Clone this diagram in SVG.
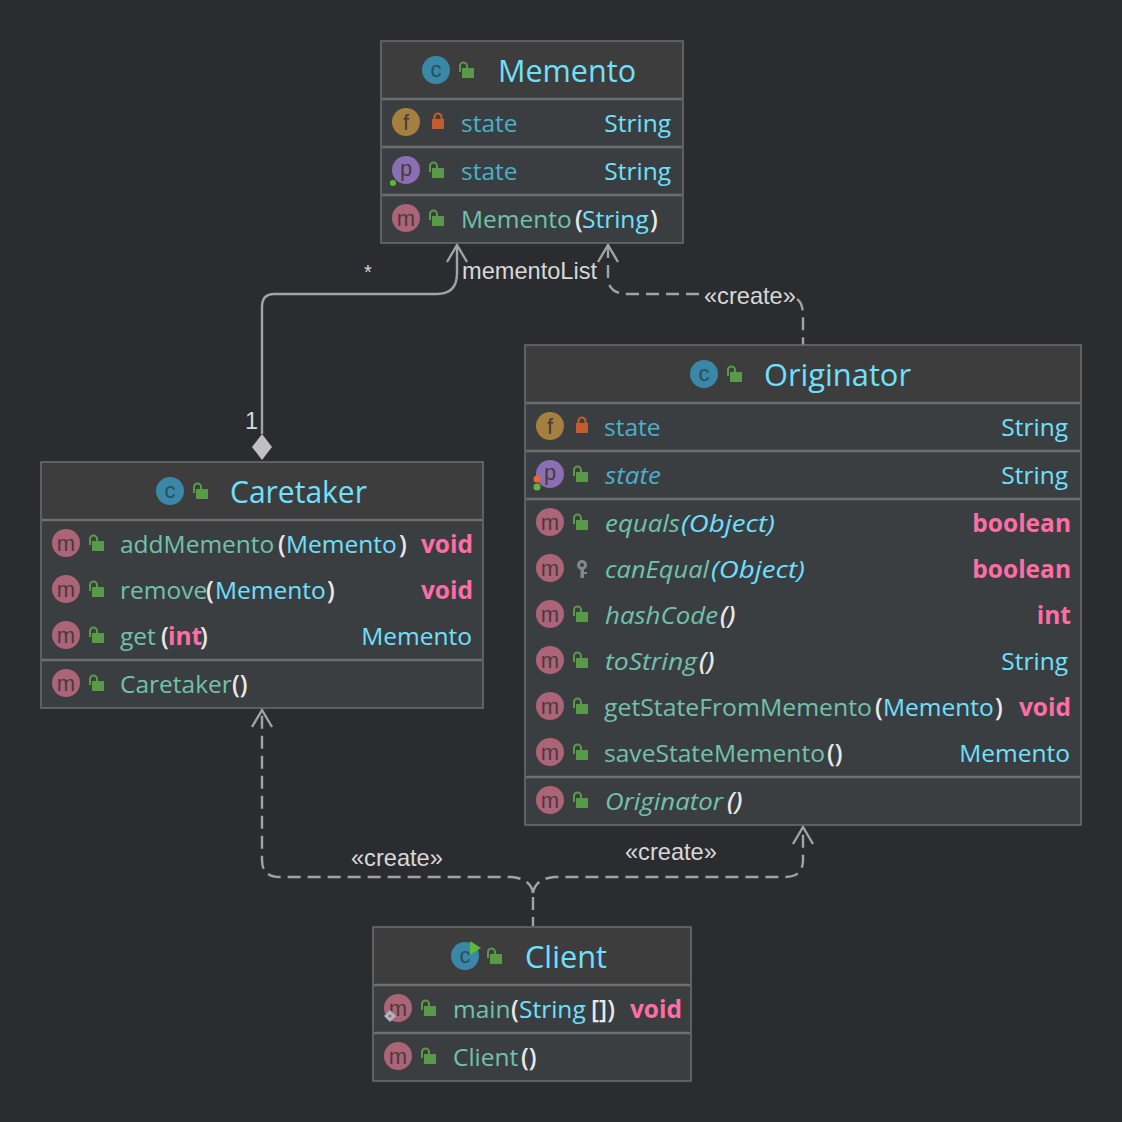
<svg xmlns="http://www.w3.org/2000/svg" width="1122" height="1122" viewBox="0 0 1122 1122">
<defs>
<style>
.t{font-family:"Open Sans","Noto Sans","Liberation Sans",sans-serif}
.title{font-size:31px;fill:#6fe0ff}
.tx{font-size:24.500px}
.f{fill:#49b0cc}.m{fill:#70c2ac}.ty{fill:#6fe0ff}.w{fill:#e8e8e8;font-weight:600}
.r{fill:#ff6da5;font-weight:700}
.i{font-style:italic}
.e{text-anchor:end}
.lb{font-family:"Liberation Sans",Arial,sans-serif;font-size:23.600px;fill:#d8d8d8}
.box{fill:#3b3e41;stroke:#6e6e6e;stroke-width:1.500}
.hd{fill:#3d3d3d}
.sep{stroke:#6e6e6e;stroke-width:2.500}
.ic{font-family:"Liberation Sans",Arial,sans-serif;font-size:22px;text-anchor:middle;fill:#4a3a3e}
.con{fill:none;stroke:#a3a3a3;stroke-width:2.400}
.dash{stroke-dasharray:13 7}
</style>
<g id="lk"><path d="M-7 1V-5A3.500 3.500 0 0 1 0 -5V-3" fill="none" stroke="#599a48" stroke-width="2"/><rect x="-5" y="-3" width="12" height="10" fill="#599a48"/></g>
<g id="pv"><path d="M-3.500 -3V-5A3.500 3.500 0 0 1 3.500 -5V-3" fill="none" stroke="#c45c30" stroke-width="2"/><rect x="-6" y="-3" width="12" height="10" fill="#c45c30"/></g>
<g id="mi"><circle r="14" fill="#ac6478"/><text class="ic" y="7.500">m</text></g>
<g id="fi"><circle r="14" fill="#a3803e"/><text class="ic" y="8">f</text></g>
<g id="pi"><circle r="14" fill="#8a6fb2"/><text class="ic" y="6">p</text></g>
<g id="ci"><circle r="14" fill="#3b87a7"/><text class="ic" y="6.500" style="fill:#26505f">c</text></g>
</defs>
<rect width="1122" height="1122" fill="#2b2c30"/>

<g id="connectors">
<path class="con" d="M262 434V307Q262 294 274 294H437Q457 294 457 273V245"/>
<path class="con" d="M447 262L457 245L467 262"/>
<path d="M262 434L272 447L262 460L252 447Z" fill="#c0c0c0"/>
<path class="con dash" d="M608 245V280Q610 294 628 294H702"/>
<path class="con dash" d="M797 299Q803 303 803 316V345"/>
<path class="con" d="M598 262L608 245L618 262"/>
<path class="con dash" d="M533 926V893" style="stroke-dashoffset:4"/>
<path class="con dash" d="M533 893Q531 879 512 877H280Q262 877 262 860V710"/>
<path class="con dash" d="M533 893Q535 879 554 877H785Q803 877 803 860V827"/>
<path class="con" d="M252 727L262 710L272 727"/>
<path class="con" d="M793 844L803 827L813 844"/>
<text class="lb" x="364" y="279" style="font-size:20px">*</text>
<text class="lb" x="245" y="429">1</text>
<text class="lb" x="462" y="279">mementoList</text>
<text class="lb" x="704" y="304">«create»</text>
<text class="lb" x="351" y="866">«create»</text>
<text class="lb" x="625" y="860">«create»</text>
</g>

<g id="memento">
<rect class="box" x="381" y="41" width="302" height="202"/>
<rect class="hd" x="382" y="42" width="300" height="57"/>
<path class="sep" d="M382 99H682M382 147H682M382 195H682"/>
<use href="#ci" x="436" y="70"/><use href="#lk" x="467" y="71"/>
<text class="t title" x="498" y="82" textLength="138" lengthAdjust="spacingAndGlyphs">Memento</text>
<use href="#fi" x="406" y="122"/><use href="#pv" x="438" y="122"/>
<text class="t tx f" x="461" y="132">state</text><text class="t tx ty e" x="671" y="132">String</text>
<use href="#pi" x="406" y="170"/><circle cx="393" cy="183" r="3" fill="#5fb83c"/><use href="#lk" x="437" y="171"/>
<text class="t tx f" x="461" y="180">state</text><text class="t tx ty e" x="671" y="180">String</text>
<use href="#mi" x="406" y="218"/><use href="#lk" x="437" y="219"/>
<text class="t tx m" x="461" y="228">Memento<tspan class="w" x="575">(</tspan><tspan class="ty" x="582">String</tspan><tspan class="w" x="650">)</tspan></text>
</g>

<g id="originator">
<rect class="box" x="525" y="345" width="556" height="480"/>
<rect class="hd" x="526" y="346" width="554" height="57"/>
<path class="sep" d="M526 403H1080M526 451H1080M526 499H1080M526 777H1080"/>
<use href="#ci" x="704" y="374"/><use href="#lk" x="735" y="375"/>
<text class="t title" x="764" y="386" textLength="147" lengthAdjust="spacingAndGlyphs">Originator</text>
<use href="#fi" x="550" y="426"/><use href="#pv" x="582" y="426"/>
<text class="t tx f" x="604" y="436">state</text><text class="t tx ty e" x="1068" y="436">String</text>
<use href="#pi" x="550" y="474"/><circle cx="537" cy="479" r="3.500" fill="#f26522"/><circle cx="537" cy="487" r="3.500" fill="#5fb83c"/><use href="#lk" x="581" y="475"/>
<text class="t tx f i" x="605" y="484" textLength="56" lengthAdjust="spacingAndGlyphs">state</text><text class="t tx ty e" x="1068" y="484">String</text>
<use href="#mi" x="550" y="522"/><use href="#lk" x="581" y="523"/>
<text class="t tx m i" x="605" y="532"><tspan textLength="75" lengthAdjust="spacingAndGlyphs">equals</tspan><tspan class="ty" x="681" textLength="94" lengthAdjust="spacingAndGlyphs">(Object)</tspan></text><text class="t tx r e" x="1071" y="532">boolean</text>
<use href="#mi" x="550" y="568"/>
<g fill="#7f8b91"><circle cx="582" cy="565" r="5"/><rect x="580.500" y="568" width="3.500" height="10"/><rect x="584" y="572" width="3" height="2"/></g><circle cx="582" cy="565" r="2" fill="#3b3e41"/>
<text class="t tx m i" x="605" y="578"><tspan textLength="104" lengthAdjust="spacingAndGlyphs">canEqual</tspan><tspan class="ty" x="711" textLength="94" lengthAdjust="spacingAndGlyphs">(Object)</tspan></text><text class="t tx r e" x="1071" y="578">boolean</text>
<use href="#mi" x="550" y="614"/><use href="#lk" x="581" y="615"/>
<text class="t tx m i" x="605" y="624"><tspan textLength="113" lengthAdjust="spacingAndGlyphs">hashCode</tspan><tspan class="w" x="720">()</tspan></text><text class="t tx r e" x="1071" y="624">int</text>
<use href="#mi" x="550" y="660"/><use href="#lk" x="581" y="661"/>
<text class="t tx m i" x="605" y="670"><tspan textLength="92" lengthAdjust="spacingAndGlyphs">toString</tspan><tspan class="w" x="699">()</tspan></text><text class="t tx ty e" x="1068" y="670">String</text>
<use href="#mi" x="550" y="706"/><use href="#lk" x="581" y="707"/>
<text class="t tx m" x="604" y="716"><tspan textLength="268" lengthAdjust="spacingAndGlyphs">getStateFromMemento</tspan><tspan class="w" x="875">(</tspan><tspan class="ty" x="883">Memento</tspan><tspan class="w" x="995">)</tspan></text><text class="t tx r e" x="1071" y="716">void</text>
<use href="#mi" x="550" y="752"/><use href="#lk" x="581" y="753"/>
<text class="t tx m" x="604" y="762"><tspan textLength="221" lengthAdjust="spacingAndGlyphs">saveStateMemento</tspan><tspan class="w" x="827">()</tspan></text><text class="t tx ty e" x="1070" y="762">Memento</text>
<use href="#mi" x="550" y="800"/><use href="#lk" x="581" y="801"/>
<text class="t tx m i" x="605" y="810"><tspan textLength="118" lengthAdjust="spacingAndGlyphs">Originator</tspan><tspan class="w" x="727">()</tspan></text>
</g>

<g id="caretaker">
<rect class="box" x="41" y="462" width="442" height="246"/>
<rect class="hd" x="42" y="463" width="440" height="57"/>
<path class="sep" d="M42 520H482M42 660H482"/>
<use href="#ci" x="170" y="491"/><use href="#lk" x="201" y="492"/>
<text class="t title" x="230" y="503" textLength="137" lengthAdjust="spacingAndGlyphs">Caretaker</text>
<use href="#mi" x="66" y="543"/><use href="#lk" x="97" y="544"/>
<text class="t tx m" x="120" y="553">addMemento<tspan class="w" x="278">(</tspan><tspan class="ty" x="286">Memento</tspan><tspan class="w" x="399">)</tspan></text><text class="t tx r e" x="473" y="553">void</text>
<use href="#mi" x="66" y="589"/><use href="#lk" x="97" y="590"/>
<text class="t tx m" x="120" y="599">remove<tspan class="w" x="206">(</tspan><tspan class="ty" x="215">Memento</tspan><tspan class="w" x="327">)</tspan></text><text class="t tx r e" x="473" y="599">void</text>
<use href="#mi" x="66" y="635"/><use href="#lk" x="97" y="636"/>
<text class="t tx m" x="120" y="645">get<tspan class="w" x="161">(</tspan><tspan class="r" x="168">int</tspan><tspan class="w" x="200">)</tspan></text><text class="t tx ty e" x="472" y="645">Memento</text>
<use href="#mi" x="66" y="683"/><use href="#lk" x="97" y="684"/>
<text class="t tx m" x="120" y="693">Caretaker<tspan class="w" x="232">()</tspan></text>
</g>

<g id="client">
<rect class="box" x="373" y="927" width="318" height="154"/>
<rect class="hd" x="374" y="928" width="316" height="57"/>
<path class="sep" d="M374 985H690M374 1033H690"/>
<use href="#ci" x="465" y="956"/><path d="M470 941L481 948L470 955Z" fill="#5fb83c"/><use href="#lk" x="495" y="957"/>
<text class="t title" x="525" y="968" textLength="82" lengthAdjust="spacingAndGlyphs">Client</text>
<use href="#mi" x="398" y="1008"/><path d="M390 1010L396 1016L390 1022L384 1016Z" fill="#a9b7c6"/><circle cx="390" cy="1016" r="1.500" fill="#c75450"/><use href="#lk" x="429" y="1009"/>
<text class="t tx m" x="453" y="1018">main<tspan class="w" x="511">(</tspan><tspan class="ty" x="519">String</tspan><tspan class="w" x="591">[])</tspan></text><text class="t tx r e" x="682" y="1018">void</text>
<use href="#mi" x="398" y="1056"/><use href="#lk" x="429" y="1057"/>
<text class="t tx m" x="453" y="1066">Client<tspan class="w" x="521">()</tspan></text>
</g>
</svg>
